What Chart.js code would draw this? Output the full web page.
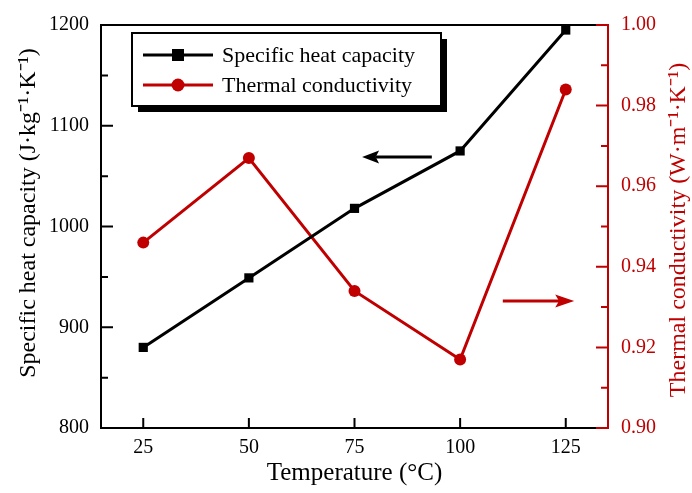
<!DOCTYPE html>
<html>
<head>
<meta charset="utf-8">
<script src="https://cdn.jsdelivr.net/npm/chart.js@4.4.1/dist/chart.umd.min.js"></script>
<style>
  html, body { margin: 0; padding: 0; background: #ffffff; }
  #wrap { width: 692px; height: 493px; }
</style>
</head>
<body>
<div id="wrap"><canvas id="chart" width="692" height="493"></canvas></div>
<script>
// Measured values
const temperatures = [25, 50, 75, 100, 125];
const specificHeat = [880, 949, 1018, 1075, 1195];
const thermalConductivity = [0.946, 0.967, 0.934, 0.917, 0.984];

// Axis ticks
const xTickValues = [25, 50, 75, 100, 125];
const heatTickValues = [800, 900, 1000, 1100, 1200];
const heatMinorValues = [850, 950, 1050, 1150];
const condTickValues = [0.90, 0.92, 0.94, 0.96, 0.98, 1.00];
const condMinorValues = [0.91, 0.93, 0.95, 0.97, 0.99];

const seriesNames = ['Specific heat capacity', 'Thermal conductivity'];
const axisTitles = ['Temperature (°C)', 'Specific heat capacity (J·kg⁻¹·K⁻¹)', 'Thermal conductivity (W·m⁻¹·K⁻¹)'];

// Arrow annotations pointing to each series' axis, in data units
const heatArrow = { y: 1069, from: 93.3, to: 76.8 };
const condArrow = { y: 0.9315, from: 110.1, to: 127.0 };

const RED = '#c00000';
const BLACK = '#000000';
const FONT = '"Liberation Serif", "Times New Roman", serif';

function pts(xs, ys) { return xs.map((x, i) => ({ x: x, y: ys[i] })); }

function drawArrow(ctx, x1, x2, y, color, headLen, headHalf) {
  const dir = Math.sign(x2 - x1);
  ctx.save();
  ctx.strokeStyle = color;
  ctx.fillStyle = color;
  ctx.lineWidth = 3;
  ctx.beginPath();
  ctx.moveTo(x1, y);
  ctx.lineTo(x2 - dir * headLen * 0.8, y);
  ctx.stroke();
  ctx.beginPath();
  ctx.moveTo(x2, y);
  ctx.lineTo(x2 - dir * headLen, y - headHalf);
  ctx.lineTo(x2 - dir * headLen * 0.8, y);
  ctx.lineTo(x2 - dir * headLen, y + headHalf);
  ctx.closePath();
  ctx.fill();
  ctx.restore();
}

const framePlugin = {
  id: 'frame',
  afterDraw(chart) {
    const ctx = chart.ctx;
    const a = chart.chartArea;
    const xs = chart.scales.x, yl = chart.scales.yHeat, yr = chart.scales.yCond;
    ctx.save();
    ctx.lineCap = 'butt';
    // frame
    ctx.lineWidth = 2;
    ctx.strokeStyle = BLACK;
    ctx.beginPath();
    ctx.moveTo(a.right, a.top); ctx.lineTo(a.left, a.top);
    ctx.lineTo(a.left, a.bottom); ctx.lineTo(a.right, a.bottom);
    ctx.stroke();
    ctx.strokeStyle = RED;
    ctx.beginPath();
    ctx.moveTo(a.right, a.top - 1); ctx.lineTo(a.right, a.bottom + 1);
    ctx.stroke();

    // inward ticks
    ctx.lineWidth = 2;
    ctx.strokeStyle = BLACK;
    ctx.beginPath();
    xTickValues.forEach(v => { const p = xs.getPixelForValue(v); ctx.moveTo(p, a.bottom); ctx.lineTo(p, a.bottom - 10); });
    heatTickValues.forEach(v => { const p = yl.getPixelForValue(v); ctx.moveTo(a.left, p); ctx.lineTo(a.left + 12, p); });
    heatMinorValues.forEach(v => { const p = yl.getPixelForValue(v); ctx.moveTo(a.left, p); ctx.lineTo(a.left + 7, p); });
    ctx.stroke();
    ctx.strokeStyle = RED;
    ctx.beginPath();
    condTickValues.forEach(v => { const p = yr.getPixelForValue(v); ctx.moveTo(a.right, p); ctx.lineTo(a.right - 12, p); });
    condMinorValues.forEach(v => { const p = yr.getPixelForValue(v); ctx.moveTo(a.right, p); ctx.lineTo(a.right - 7, p); });
    ctx.stroke();

    // axis titles for both y axes, reading bottom to top
    const yTitles = [
      { x: 29, y: 213, color: BLACK, text: axisTitles[1] },
      { x: 679, y: 230, color: RED, text: axisTitles[2] }
    ];
    yTitles.forEach(t => {
      ctx.save();
      ctx.translate(t.x, t.y);
      ctx.rotate(-Math.PI / 2);
      ctx.fillStyle = t.color;
      ctx.font = '24px ' + FONT;
      ctx.textAlign = 'center';
      ctx.textBaseline = 'middle';
      ctx.fillText(t.text, 0, 0);
      ctx.restore();
    });

    // arrows
    drawArrow(ctx, xs.getPixelForValue(heatArrow.from), xs.getPixelForValue(heatArrow.to), yl.getPixelForValue(heatArrow.y), BLACK, 17, 6.5);
    drawArrow(ctx, xs.getPixelForValue(condArrow.from), xs.getPixelForValue(condArrow.to), yr.getPixelForValue(condArrow.y), RED, 19, 6.5);

    // legend box with drop shadow
    const bx = 132, by = 33, bw = 309, bh = 73;
    ctx.fillStyle = BLACK;
    ctx.fillRect(bx + 6, by + 6, bw, bh);
    ctx.fillStyle = '#ffffff';
    ctx.fillRect(bx, by, bw, bh);
    ctx.lineWidth = 2;
    ctx.strokeStyle = BLACK;
    ctx.strokeRect(bx, by, bw, bh);

    const rows = [
      { y: 55, color: BLACK, style: 'rect', name: seriesNames[0] },
      { y: 85, color: RED, style: 'circle', name: seriesNames[1] }
    ];
    rows.forEach(r => {
      ctx.strokeStyle = r.color;
      ctx.lineWidth = 3;
      ctx.beginPath();
      ctx.moveTo(143, r.y); ctx.lineTo(213, r.y);
      ctx.stroke();
      ctx.fillStyle = r.color;
      if (r.style === 'rect') {
        ctx.fillRect(178 - 6, r.y - 6, 12, 12);
      } else {
        ctx.beginPath(); ctx.arc(178, r.y, 6.5, 0, Math.PI * 2); ctx.fill();
      }
      ctx.fillStyle = BLACK;
      ctx.font = '22px ' + FONT;
      ctx.textAlign = 'left';
      ctx.textBaseline = 'middle';
      ctx.fillText(r.name, 222, r.y + 1);
    });
    ctx.restore();
  }
};

const chart = new Chart(document.getElementById('chart'), {
  type: 'line',
  data: {
    datasets: [
      {
        label: seriesNames[0],
        data: pts(temperatures, specificHeat),
        yAxisID: 'yHeat',
        borderColor: BLACK,
        backgroundColor: BLACK,
        borderWidth: 3,
        pointStyle: 'rect',
        pointRadius: 6.5,
        pointBorderWidth: 0,
        tension: 0,
        clip: false
      },
      {
        label: seriesNames[1],
        data: pts(temperatures, thermalConductivity),
        yAxisID: 'yCond',
        borderColor: RED,
        backgroundColor: RED,
        borderWidth: 3,
        pointStyle: 'circle',
        pointRadius: 6,
        pointBorderWidth: 0,
        tension: 0,
        clip: false
      }
    ]
  },
  options: {
    responsive: false,
    animation: false,
    devicePixelRatio: 1,
    layout: { padding: { top: 19, left: 0, right: 0, bottom: 0 } },
    plugins: { legend: { display: false }, tooltip: { enabled: false } },
    scales: {
      x: {
        type: 'linear',
        min: 15,
        max: 135,
        afterBuildTicks: s => { s.ticks = xTickValues.map(v => ({ value: v })); },
        afterFit: s => { s.height = 65; },
        grid: { display: false, drawTicks: false },
        border: { display: false },
        ticks: { color: BLACK, padding: 8, maxRotation: 0, font: { family: FONT, size: 20 }, callback: v => String(v) },
        title: { display: true, text: axisTitles[0], color: BLACK, padding: { top: 0, bottom: 5 }, font: { family: FONT, size: 25 } }
      },
      yHeat: {
        type: 'linear',
        position: 'left',
        min: 800,
        max: 1200,
        afterBuildTicks: s => { s.ticks = heatTickValues.map(v => ({ value: v })); },
        afterFit: s => { s.width = 101; },
        grid: { display: false, drawTicks: false },
        border: { display: false },
        ticks: { color: BLACK, padding: 12, font: { family: FONT, size: 20 }, callback: v => String(v) },
        title: { display: false }
      },
      yCond: {
        type: 'linear',
        position: 'right',
        min: 0.90,
        max: 1.00,
        afterBuildTicks: s => { s.ticks = condTickValues.map(v => ({ value: v })); },
        afterFit: s => { s.width = 84; },
        grid: { display: false, drawTicks: false },
        border: { display: false },
        ticks: { color: RED, padding: 13, font: { family: FONT, size: 20 }, callback: v => Number(v).toFixed(2) },
        title: { display: false }
      }
    }
  },
  plugins: [framePlugin]
});
</script>
</body>
</html>
